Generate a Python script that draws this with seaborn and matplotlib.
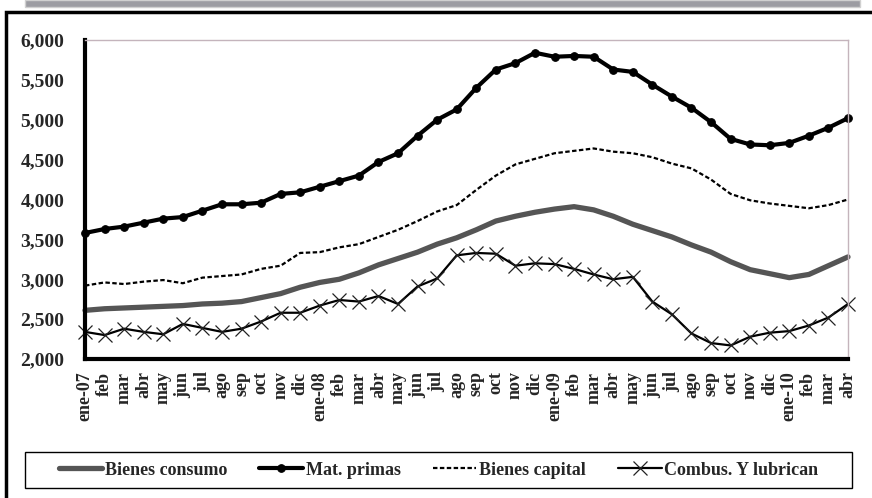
import numpy as np
import pandas as pd
import matplotlib
matplotlib.use("Agg")
import matplotlib.pyplot as plt
from matplotlib.patches import Rectangle
from matplotlib.ticker import FuncFormatter
import seaborn as sns

# month labels, ene-07 .. abr-10
months = ["ene-07", "feb", "mar", "abr", "may", "jun", "jul", "ago", "sep", "oct", "nov", "dic",
          "ene-08", "feb", "mar", "abr", "may", "jun", "jul", "ago", "sep", "oct", "nov", "dic",
          "ene-09", "feb", "mar", "abr", "may", "jun", "jul", "ago", "sep", "oct", "nov", "dic",
          "ene-10", "feb", "mar", "abr"]

bienes_consumo = [2610, 2630, 2640, 2650, 2660, 2670, 2690, 2700, 2720, 2770, 2820, 2900,
                  2960, 3000, 3080, 3180, 3260, 3340, 3440, 3520, 3620, 3730, 3790, 3840,
                  3880, 3910, 3870, 3790, 3690, 3610, 3530, 3430, 3340, 3220, 3120, 3070,
                  3020, 3060, 3170, 3280]

mat_primas = [3580, 3630, 3660, 3710, 3760, 3780, 3860, 3940, 3940, 3960, 4070, 4090,
              4160, 4230, 4300, 4470, 4580, 4800, 5000, 5130, 5400, 5630, 5710, 5840,
              5790, 5800, 5790, 5630, 5600, 5440, 5290, 5150, 4970, 4760, 4690, 4680,
              4710, 4800, 4900, 5020]

bienes_capital = [2920, 2960, 2940, 2970, 2990, 2950, 3020, 3040, 3060, 3130, 3170, 3330,
                  3340, 3400, 3440, 3530, 3620, 3730, 3850, 3930, 4120, 4300, 4440, 4510,
                  4580, 4610, 4640, 4600, 4580, 4530, 4450, 4390, 4250, 4070, 3990, 3950,
                  3920, 3890, 3930, 4000]

combustibles = [2340, 2300, 2380, 2340, 2310, 2440, 2390, 2340, 2380, 2470, 2580, 2580,
                2670, 2740, 2720, 2790, 2690, 2910, 3010, 3300, 3330, 3320, 3170, 3200,
                3190, 3130, 3060, 3000, 3030, 2720, 2560, 2320, 2200, 2170, 2280, 2330,
                2350, 2420, 2520, 2690]

x = np.arange(len(months))

sns.set_style("white")
plt.rcParams["font.family"] = ["Liberation Serif", "DejaVu Serif"]
plt.rcParams["font.weight"] = "bold"

W, H = 872, 498
fig = plt.figure(figsize=(W / 100, H / 100), dpi=100)
ax = fig.add_axes([85 / W, 1 - 359 / H, 763 / W, 319 / H])

# top grey bar, outer frame and legend box
fig.patches.append(Rectangle((25 / W, 1 - 7 / H), 835 / W, 7 / H,
                             transform=fig.transFigure, facecolor="#9c9ca2",
                             edgecolor="#d0d0d0", lw=1, zorder=0))
fig.patches.append(Rectangle((6 / W, -0.05), 1.05, 1 - 12 / H + 0.05,
                             transform=fig.transFigure, fill=False,
                             edgecolor="black", lw=2.5, zorder=0))
fig.patches.append(Rectangle((25 / W, 1 - 488 / H), 827 / W, 36 / H,
                             transform=fig.transFigure, fill=False,
                             edgecolor="black", lw=1, zorder=0))

sns.lineplot(x=x, y=bienes_consumo, ax=ax, color="#555555", lw=3.8,
             label="Bienes consumo", clip_on=False)
sns.lineplot(x=x, y=mat_primas, ax=ax, color="black", lw=3, marker="o",
             markersize=5.5, markeredgecolor="black", label="Mat. primas", clip_on=False)
sns.lineplot(x=x, y=bienes_capital, ax=ax, color="black", lw=1.6,
             linestyle=(0, (2.0, 1.1)), label="Bienes capital", clip_on=False)
sns.lineplot(x=x, y=combustibles, ax=ax, color="black", lw=1.6, marker="x",
             markersize=10, markeredgewidth=0.9, markeredgecolor="#222222",
             label="Combus. Y lubrican", clip_on=False)

ax.set_xlim(0, len(months) - 1)
ax.set_ylim(2000, 6000)
ax.set_yticks(np.arange(2000, 6001, 500))
ax.yaxis.set_major_formatter(FuncFormatter(lambda v, p: f"{int(v):,}"))
ax.set_xticks(x)
ax.set_xticklabels(months, rotation=90, fontsize=13, fontweight="bold")
ax.set_xticks(x[::6], minor=True)
ax.xaxis.remove_overlapping_locs = False
ax.tick_params(axis="x", which="major", length=0, pad=9)
ax.tick_params(axis="x", which="minor", direction="inout", length=10, width=3)
ax.tick_params(axis="y", direction="inout", length=10, width=3, pad=10, labelsize=14)
for lab in ax.get_yticklabels():
    lab.set_fontweight("bold")

for side in ["left", "bottom"]:
    ax.spines[side].set_linewidth(3)
    ax.spines[side].set_color("black")
for side in ["top", "right"]:
    ax.spines[side].set_linewidth(1)
    ax.spines[side].set_color("#c4b4bc")
ax.set_xlabel("")
ax.set_ylabel("")

handles, labels = ax.get_legend_handles_labels()
ax.get_legend().remove()
leg = fig.legend(handles, labels, loc="center", ncol=4,
                 bbox_to_anchor=((25 + 827 / 2) / W, 1 - 470 / H),
                 frameon=False, fontsize=13, handlelength=2.4,
                 handletextpad=0.15, columnspacing=1.8)
for t in leg.get_texts():
    t.set_fontweight("bold")

fig.savefig("out.png", dpi=100)
